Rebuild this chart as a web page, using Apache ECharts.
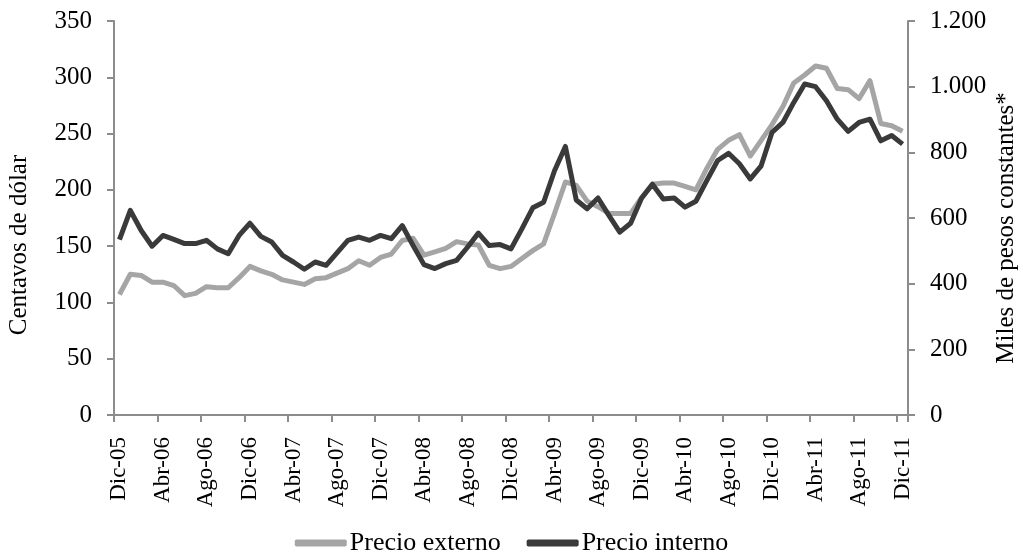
<!DOCTYPE html>
<html>
<head>
<meta charset="utf-8">
<script src="https://cdn.jsdelivr.net/npm/echarts@6/dist/echarts.min.js"></script>
<style>
html,body{margin:0;padding:0;background:#fff;}
#chart{width:1023px;height:556px;}
</style>
</head>
<body>
<div id="chart"></div>
<script>
var mesesAbr = ['Ene','Feb','Mar','Abr','May','Jun','Jul','Ago','Sep','Oct','Nov','Dic'];
var categorias = (function(){
  var out = ['Dic-05'];
  for (var y = 6; y <= 11; y++) {
    for (var m = 0; m < 12; m++) {
      out.push(mesesAbr[m] + '-' + (y < 10 ? '0' + y : '' + y));
    }
  }
  return out;
})();

var precioExterno = [
  107,125,124,118,118,115,106,108,114,113,113,122,
  132,128,125,120,118,116,121,122,126,130,137,133,
  140,143,155,157,142,145,148,154,152,151,133,130,
  132,139,146,152,179,207,204,190,185,179,179,179,
  193,205,206,206,203,200,219,236,244,249,230,244,
  258,274,295,302,310,308,290,289,281,297,259,257,
  252
];

var precioInterno = [
  534,623,562,514,547,535,522,522,532,506,491,547,
  584,544,527,486,466,444,466,456,494,532,542,532,
  547,537,577,516,458,446,461,471,511,554,516,519,
  506,567,631,648,744,818,655,628,661,608,557,584,
  660,703,658,661,633,651,714,775,797,765,719,759,
  861,891,952,1008,1000,957,901,864,891,901,835,851,
  825
];

var ticksIzq = [0,50,100,150,200,250,300,350];
var ticksDer = [0,200,400,600,800,1000,1200];
var tituloIzq = 'Centavos de dólar';
var tituloDer = 'Miles de pesos constantes*';

var serif = '"Liberation Serif", "Times New Roman", serif';
var axisGrey = '#8c8c8c';

function fmtMiles(v){
  return String(v).replace(/\B(?=(\d{3})+(?!\d))/g, '.');
}

var chart = echarts.init(document.getElementById('chart'));
chart.setOption({
  animation: false,
  backgroundColor: '#fff',
  grid: { left: 114, right: 115, top: 21, bottom: 141, containLabel: false },
  legend: {
    top: 525,
    left: 'center',
    itemWidth: 52,
    itemHeight: 7,
    itemGap: 26,
    icon: 'roundRect',
    textStyle: { fontFamily: serif, fontSize: 26, color: '#000', padding: [0, 0, 0, -2] },
    data: ['Precio externo', 'Precio interno']
  },
  graphic: [
    {
      type: 'text',
      x: 19, y: 245,
      rotation: Math.PI / 2,
      style: { text: tituloIzq, fontFamily: serif, fontSize: 25, fill: '#000', align: 'center', verticalAlign: 'middle' }
    },
    {
      type: 'text',
      x: 1006, y: 228,
      rotation: Math.PI / 2,
      style: { text: tituloDer, fontFamily: serif, fontSize: 25, fill: '#000', align: 'center', verticalAlign: 'middle' }
    }
  ],
  xAxis: {
    type: 'category',
    data: categorias,
    boundaryGap: true,
    axisLine: { lineStyle: { color: axisGrey, width: 2 } },
    axisTick: { show: true, interval: 3, length: 7, lineStyle: { color: axisGrey, width: 2 } },
    axisLabel: { interval: 3, rotate: 90, fontFamily: serif, fontSize: 23, color: '#000', margin: 22 }
  },
  yAxis: [
    {
      type: 'value',
      min: ticksIzq[0],
      max: ticksIzq[ticksIzq.length - 1],
      interval: 50,
      splitLine: { show: false },
      axisLine: { show: true, lineStyle: { color: axisGrey, width: 2 } },
      axisTick: { show: true, length: 7, lineStyle: { color: axisGrey, width: 2 } },
      axisLabel: { fontFamily: serif, fontSize: 25, color: '#000', margin: 22 }
    },
    {
      type: 'value',
      min: ticksDer[0],
      max: ticksDer[ticksDer.length - 1],
      interval: 200,
      position: 'right',
      splitLine: { show: false },
      axisLine: { show: true, lineStyle: { color: axisGrey, width: 2 } },
      axisTick: { show: true, length: 7, lineStyle: { color: axisGrey, width: 2 } },
      axisLabel: { fontFamily: serif, fontSize: 25, color: '#000', margin: 22, formatter: fmtMiles }
    }
  ],
  series: [
    {
      name: 'Precio externo',
      type: 'line',
      yAxisIndex: 0,
      data: precioExterno,
      showSymbol: false,
      symbol: 'none',
      itemStyle: { color: '#a5a5a5' },
      lineStyle: { color: '#a5a5a5', width: 5, join: 'round' }
    },
    {
      name: 'Precio interno',
      type: 'line',
      yAxisIndex: 1,
      data: precioInterno,
      showSymbol: false,
      symbol: 'none',
      itemStyle: { color: '#3a3a3a' },
      lineStyle: { color: '#3a3a3a', width: 5, join: 'round' }
    }
  ]
});
</script>
</body>
</html>
